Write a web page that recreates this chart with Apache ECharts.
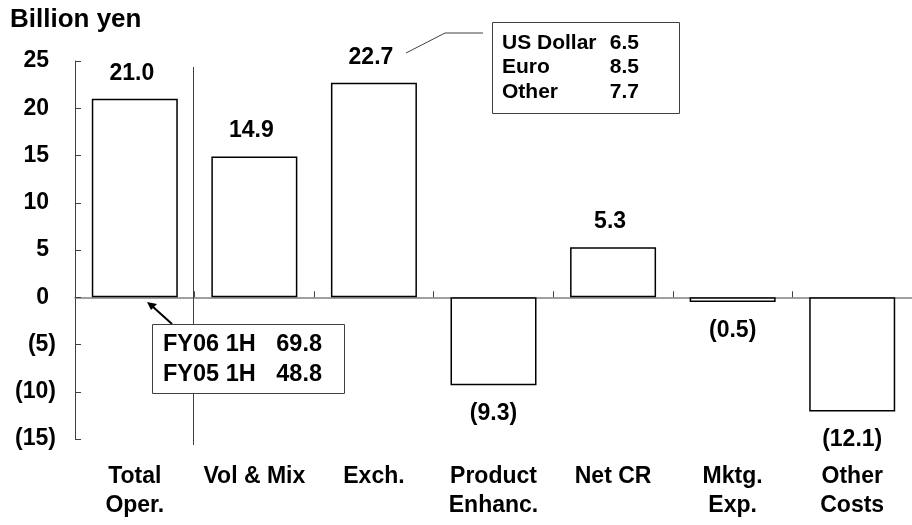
<!DOCTYPE html>
<html>
<head>
<meta charset="utf-8">
<script src="https://cdn.jsdelivr.net/npm/echarts@6/dist/echarts.min.js"></script>
<style>
html,body{margin:0;padding:0;background:#fff;}
#chart{width:912px;height:525px;}
</style>
</head>
<body>
<div id="chart"></div>
<script>
var categories = ['Total\nOper.', 'Vol & Mix', 'Exch.', 'Product\nEnhanc.', 'Net CR', 'Mktg.\nExp.', 'Other\nCosts'];
var values = [21.0, 14.9, 22.7, -9.3, 5.3, -0.5, -12.1];
var yTicks = [-15, -10, -5, 0, 5, 10, 15, 20, 25];
var currencyNames = ['US Dollar', 'Euro', 'Other'];
var currencyValues = ['6.5', '8.5', '7.7'];
var periodNames = ['FY06 1H', 'FY05 1H'];
var periodValues = ['69.8', '48.8'];
var unitTitle = 'Billion yen';

var FONT = '"Liberation Sans", Arial, sans-serif';
var FS = 23;
var chart = echarts.init(document.getElementById('chart'));

function fmtVal(v) {
  return v < 0 ? '(' + Math.abs(v).toFixed(1) + ')' : '{p|' + v.toFixed(1) + '}';
}

var barData = values.map(function (v) {
  return {
    value: v,
    label: { position: v >= 0 ? 'top' : 'bottom', distance: v >= 0 ? 14 : 17 }
  };
});

var graphics = [];
graphics.push({ type: 'text', left: 10, top: 7, style: { text: unitTitle, font: 'bold 26px ' + FONT, fill: '#000' } });
graphics.push({ type: 'line', shape: { x1: 193.5, y1: 67, x2: 193.5, y2: 445 }, style: { stroke: '#404040', lineWidth: 1 }, z: 50 });
// callout 1
graphics.push({ type: 'polyline', shape: { points: [[406, 53], [445, 33], [483, 33]] }, style: { stroke: '#404040', lineWidth: 1, fill: null }, z: 50 });
graphics.push({ type: 'rect', shape: { x: 492.5, y: 22.5, width: 187, height: 91 }, style: { stroke: '#404040', fill: '#fff', lineWidth: 1 }, z: 60 });
currencyNames.forEach(function (n, i) {
  graphics.push({ type: 'text', x: 502, y: 43 + i * 24.5, style: { text: n, font: 'bold 21px ' + FONT, fill: '#000', textVerticalAlign: 'middle' }, z: 61 });
  graphics.push({ type: 'text', x: 639, y: 43 + i * 24.5, style: { text: currencyValues[i], font: 'bold 21px ' + FONT, fill: '#000', textAlign: 'right', textVerticalAlign: 'middle' }, z: 61 });
});
// callout 2
graphics.push({ type: 'line', shape: { x1: 172, y1: 324, x2: 152, y2: 306 }, style: { stroke: '#000', lineWidth: 2 }, z: 50 });
graphics.push({ type: 'polygon', shape: { points: [[147, 302], [157, 304], [151, 310]] }, style: { fill: '#000' }, z: 50 });
graphics.push({ type: 'rect', shape: { x: 152.5, y: 324.5, width: 192, height: 69 }, style: { stroke: '#404040', fill: '#fff', lineWidth: 1 }, z: 60 });
periodNames.forEach(function (n, i) {
  graphics.push({ type: 'text', x: 163, y: 345 + i * 30, style: { text: n, font: 'bold 23.5px ' + FONT, fill: '#000', textVerticalAlign: 'middle' }, z: 61 });
  graphics.push({ type: 'text', x: 322, y: 345 + i * 30, style: { text: periodValues[i], font: 'bold 23.5px ' + FONT, fill: '#000', textAlign: 'right', textVerticalAlign: 'middle' }, z: 61 });
});

chart.setOption({
  animation: false,
  backgroundColor: '#fff',
  grid: { left: 75, top: 61, width: 843, height: 378, containLabel: false },
  xAxis: [
    {
      type: 'category', data: categories, position: 'bottom',
      axisLine: { show: true, onZero: true, lineStyle: { color: '#808080', width: 1.5 } },
      axisTick: { show: true, inside: true, length: 6, lineStyle: { color: '#404040' } },
      axisLabel: { show: false }, splitLine: { show: false }
    },
    {
      type: 'category', data: categories, position: 'bottom',
      axisLine: { show: false, onZero: false }, axisTick: { show: false },
      axisLabel: { show: true, margin: 23, fontFamily: FONT, fontWeight: 'bold', fontSize: FS, color: '#000', lineHeight: 29, interval: 0 },
      splitLine: { show: false }
    }
  ],
  yAxis: {
    type: 'value', min: -15, max: 25, interval: 5,
    axisLine: { show: true, lineStyle: { color: '#404040', width: 1 } },
    axisTick: { show: true, inside: true, length: 6, lineStyle: { color: '#404040' } },
    splitLine: { show: false },
    axisLabel: {
      margin: 19, fontFamily: FONT, fontWeight: 'bold', fontSize: FS, color: '#000',
      formatter: function (v) { return v < 0 ? '(' + Math.abs(v) + ')' : '{p|' + v + '}'; },
      rich: { p: { fontFamily: FONT, fontWeight: 'bold', fontSize: FS, color: '#000', padding: [0, 7, 0, 0] } }
    }
  },
  series: [{
    type: 'bar', xAxisIndex: 0, data: barData, barWidth: 86,
    itemStyle: { color: '#fff', borderColor: '#000', borderWidth: 1.5 },
    label: {
      show: true, fontFamily: FONT, fontWeight: 'bold', fontSize: FS, color: '#000',
      formatter: function (p) { return fmtVal(p.value); },
      rich: { p: { fontFamily: FONT, fontWeight: 'bold', fontSize: FS, color: '#000', padding: [0, 6, 0, 0] } }
    }
  }],
  graphic: graphics
});
</script>
</body>
</html>
